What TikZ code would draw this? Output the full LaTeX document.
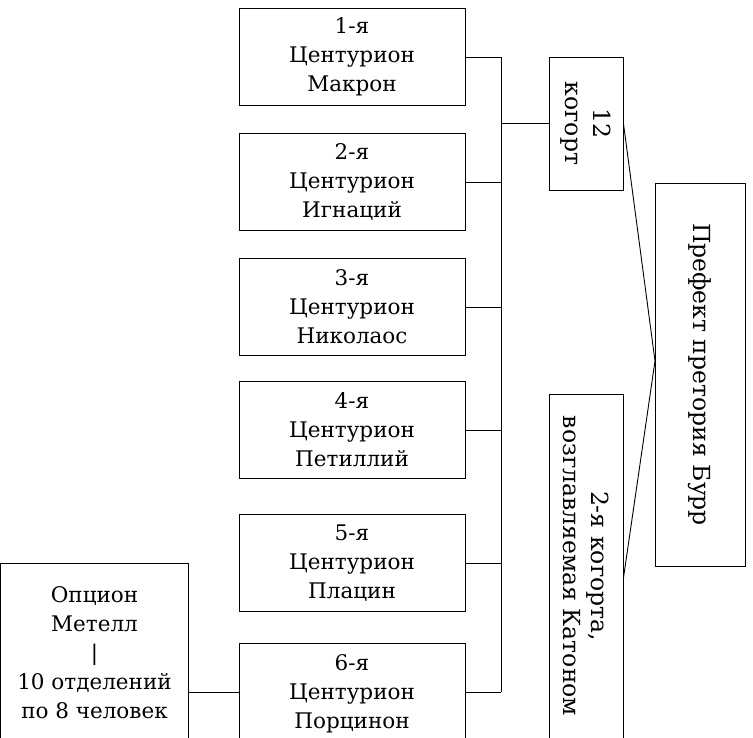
\documentclass[tikz,border=0pt]{standalone}
\usepackage{fontspec}
\setmainfont{DejaVu Serif}
\usetikzlibrary{calc}
\begin{document}
\begin{tikzpicture}[x=1pt,y=-1pt,
  box/.style={draw, line width=0.9pt, rectangle, inner sep=0pt},
  cent/.style={box, minimum width=226pt, minimum height=97pt},
  txt/.style={align=center, font=\fontsize{21.5}{29}\selectfont, inner sep=0pt},
  rtxt/.style={align=center, font=\fontsize{23.5}{28}\selectfont, inner sep=0pt, rotate=-90},
  conn/.style={line width=0.9pt}]
\clip (0,0) rectangle (753,737);
\fill[white] (0,0) rectangle (753,737);
% centurion boxes
\node[cent] (b1) at (352,57) {};
\node[txt] (t1) at (b1) {1-я\\Центурион\\Макрон};
\node[cent] (b2) at (352,182) {};
\node[txt] (t2) at (b2) {2-я\\Центурион\\Игнаций};
\node[cent] (b3) at (352,307) {};
\node[txt] (t3) at (b3) {3-я\\Центурион\\Николаос};
\node[cent] (b4) at (352,430) {};
\node[txt] (t4) at (b4) {4-я\\Центурион\\Петиллий};
\node[cent] (b5) at (352,563) {};
\node[txt] (t5) at (b5) {5-я\\Центурион\\Плацин};
\node[cent, minimum height=98pt] (b6) at (352,692) {};
\node[txt] (t6) at ($(b6)+(0,2)$) {6-я\\Центурион\\Порцинон};
% optio
\node[box, minimum width=188pt, minimum height=180pt] (op) at (94.5,653) {};
\node[txt] (top) at (op) {Опцион\\Метелл\\|\\10 отделений\\по 8 человек};
% cohorts
\node[box, minimum width=74pt, minimum height=133pt] (kog) at (586,123.5) {};
\node[rtxt] (tkog) at (kog) {12\\когорт};
\node[box, minimum width=74pt, minimum height=344pt] (coh) at (586,566) {};
\node[rtxt] (tcoh) at (coh) {2-я когорта,\\возглавляемая Катоном};
% prefect
\node[box, minimum width=90pt, minimum height=383pt] (pref) at (700,374.5) {};
\node[rtxt] (tpref) at (pref) {Префект претория Бурр};
% connectors
\coordinate (bus) at (501,0);
\coordinate (meet) at (655,361);
\foreach \b in {b1,b2,b3,b4,b5,b6}{
  \draw[conn] (\b.east) -- (\b.east -| bus);
}
\draw[conn] (b1.east -| bus) -- (b6.east -| bus);
\draw[conn] (kog.west) -- (kog.west -| bus);
\draw[conn] (op.east |- b6.west) -- (b6.west);
\draw[conn] (kog.east) -- (meet);
\draw[conn] ($(coh.east)+(0,12)$) -- (meet);
\end{tikzpicture}
\end{document}
